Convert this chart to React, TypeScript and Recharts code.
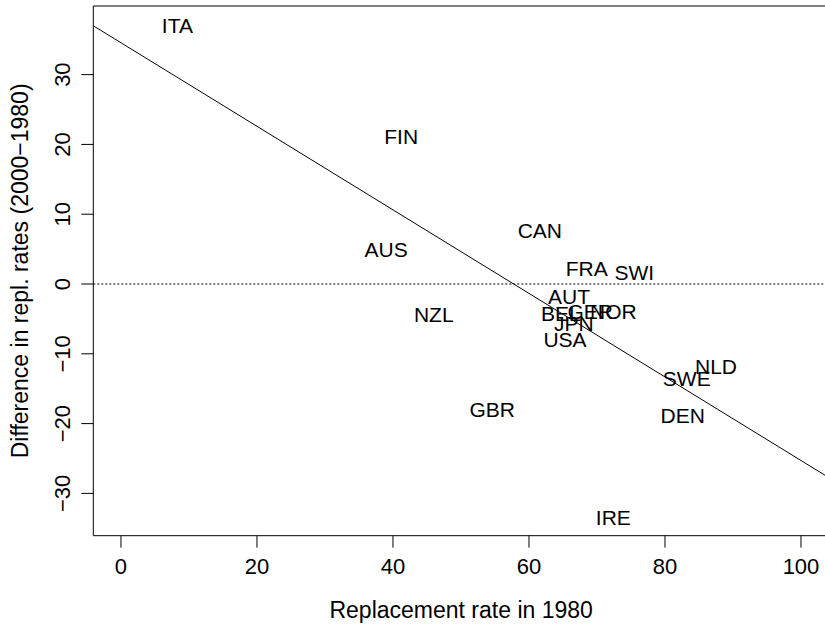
import React from "react";
import { ScatterChart, Scatter, XAxis, YAxis, ReferenceLine } from "recharts";

const countries = ["ITA", "FIN", "CAN", "AUS", "FRA", "SWI", "AUT", "GER", "BEL", "NOR", "JPN", "USA", "NZL", "GBR", "NLD", "SWE", "DEN", "IRE"];
const rate1980 = [8.3, 41.2, 61.6, 39.0, 68.5, 75.5, 65.9, 69.0, 64.7, 72.4, 66.6, 65.3, 46.0, 54.6, 87.5, 83.2, 82.6, 72.4];
const diffRates = [37.0, 21.1, 7.7, 4.9, 2.3, 1.6, -1.8, -3.9, -4.2, -4.0, -5.7, -8.0, -4.3, -18.0, -11.8, -13.6, -18.9, -33.4];

const xTicks = [0, 20, 40, 60, 80, 100];
const yTicks = [-30, -20, -10, 0, 10, 20, 30];
const xDomain = [-4.07, 103.53];
const yDomain = [-36.06, 39.83];
const fitX = [-4.07, 103.53];
const fitY = [37.0, -27.4];

const data = countries.map((name, i) => ({ name, x: rate1980[i], y: diffRates[i] }));

const FONT = "'Liberation Sans', Arial, Helvetica, sans-serif";
const FS_LABEL = 21;
const FS_TICK = 22;
const FS_TITLE = 23;

const LabelShape = (props: any) => {
  const { cx, cy, payload } = props;
  return (
    <text x={cx} y={cy} dy="0.36em" textAnchor="middle" fontFamily={FONT} fontSize={FS_LABEL} fill="#000">
      {payload.name}
    </text>
  );
};

const YTick = (props: any) => {
  const { x, y, payload } = props;
  const tx = x + 0.3;
  return (
    <text x={tx} y={y} transform={`rotate(-90, ${tx}, ${y})`} textAnchor="middle" fontFamily={FONT} fontSize={FS_TICK} fill="#000">
      {payload.value < 0 ? `\u2212${Math.abs(payload.value)}` : payload.value}
    </text>
  );
};

const XTick = (props: any) => {
  const { x, y, payload } = props;
  return (
    <text x={x} y={y} dy="0.71em" textAnchor="middle" fontFamily={FONT} fontSize={FS_TICK} fill="#000">
      {payload.value}
    </text>
  );
};

export default function App() {
  return (
    <div style={{ position: "absolute", left: 0, top: 0, width: 825, height: 625, background: "#fff" }}>
      <ScatterChart width={825} height={625} margin={{ top: 6, right: 0, bottom: 0, left: 0 }}>
        <XAxis
          type="number"
          dataKey="x"
          domain={xDomain}
          ticks={xTicks}
          allowDataOverflow
          height={89.3}
          tickSize={12}
          tickMargin={11}
          stroke="#000"
          tickLine={{ stroke: "#000" }}
          axisLine={{ stroke: "#000" }}
          tick={<XTick />}
          label={{
            content: (p: any) => {
              const vb = p.viewBox;
              return (
                <text x={vb.x + vb.width / 2 + 2} y={618} textAnchor="middle" fontFamily={FONT} fontSize={FS_TITLE} fill="#000">
                  Replacement rate in 1980
                </text>
              );
            },
          }}
        />
        <YAxis
          type="number"
          dataKey="y"
          domain={yDomain}
          ticks={yTicks}
          allowDataOverflow
          width={93.3}
          tickSize={12}
          tickMargin={12}
          stroke="#000"
          tickLine={{ stroke: "#000" }}
          axisLine={{ stroke: "#000" }}
          tick={<YTick />}
          label={{
            content: (p: any) => {
              const vb = p.viewBox;
              const cy = vb.y + vb.height / 2;
              const cx = 28.5;
              return (
                <text x={cx} y={cy} transform={`rotate(-90, ${cx}, ${cy})`} textAnchor="middle" fontFamily={FONT} fontSize={FS_TITLE} fill="#000">
                  Difference in repl. rates (2000{"\u2212"}1980)
                </text>
              );
            },
          }}
        />
        <ReferenceLine y={yDomain[1]} stroke="#000" strokeWidth={1} />
        <ReferenceLine y={0} stroke="#000" strokeWidth={1} strokeDasharray="2 2" />
        <ReferenceLine
          segment={[
            { x: fitX[0], y: fitY[0] },
            { x: fitX[1], y: fitY[1] },
          ]}
          stroke="#000"
          strokeWidth={1}
          ifOverflow="visible"
        />
        <Scatter data={data} isAnimationActive={false} shape={<LabelShape />} />
      </ScatterChart>
    </div>
  );
}
